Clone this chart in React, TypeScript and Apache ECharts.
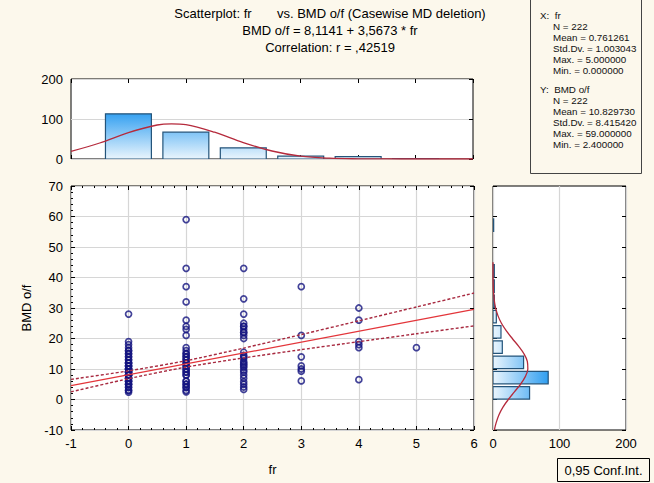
import React, { useEffect, useRef } from "react";
import * as echarts from "echarts";

// ---- data ----
const FR_LEVELS = [0, 1, 2, 3, 4, 5];
const FR_COUNTS = [113, 67, 28, 7, 6, 1];

const TOP_CURVE_X = [-1, -0.5, 0, 0.5, 0.75, 1, 1.5, 2, 2.5, 3, 3.5, 4, 4.5, 5, 6];
const TOP_CURVE_Y = [19, 40, 66, 85, 88, 86, 67, 41, 20, 7, 2, 0.5, 0.1, 0, 0];

const BMD_BIN_CENTERS = [2.2, 7.2, 12.2, 17.2, 22.2, 27.2, 32.2, 37.2, 42.2, 47.2, 52.2, 57.2];
const BMD_BIN_COUNTS = [55, 83, 46, 14, 12, 5, 2, 2, 2, 0, 0, 1];

const RIGHT_CURVE_Y = [-10, -7.5, -5, -2.5, 0, 2.5, 5, 7.5, 10, 12.5, 15, 17.5, 20, 22.5, 25, 27.5, 30, 32.5, 35, 37.5, 40, 45];
const RIGHT_CURVE_X = [2.0, 4.9, 9.0, 15.0, 23.0, 32.2, 41.4, 48.6, 52.4, 51.6, 46.5, 38.4, 29.0, 20.1, 12.7, 7.4, 3.9, 1.9, 0.85, 0.3, 0.1, 0];

const BMD_FR0 = [28, 19, 18, 17, 16, 15, 14, 13, 12, 11, 10, 9, 8, 7, 6, 5, 4, 3, 2.4,
  16, 15, 14, 13, 12, 11, 10, 9, 8, 7, 6, 5, 4, 3, 10, 9, 8, 7, 6, 5, 12, 11, 10, 9, 8];
const BMD_FR1 = [59, 43, 37, 32, 26, 24, 23, 21, 17, 16, 15, 14, 13, 12, 11, 10, 9, 8, 6, 5, 4, 3, 2.5,
  15, 14, 13, 12, 11, 10, 9, 8, 6, 5, 4];
const BMD_FR2 = [43, 33, 28, 25, 24, 23, 22, 21, 20, 15.5, 14.5, 13.5, 12.5, 11.5, 10.5, 9.6, 8, 7, 5.8, 5, 4.1, 3.3,
  24, 22, 14, 12, 11, 9];
const BMD_FR3 = [37, 21, 14, 11, 10, 9.3, 6.1];
const BMD_FR4 = [30, 26, 19, 18, 17, 6.5];
const BMD_FR5 = [17];

const REG_X = [-1, 6];
const REG_Y = [4.55, 29.52];
const CI_X = [-1, 0, 1, 2, 3, 4, 5, 6];
const CI_UPPER = [6.59, 9.38, 12.72, 16.86, 21.29, 25.8, 30.34, 34.9];
const CI_LOWER = [2.51, 6.84, 10.64, 13.64, 16.35, 18.96, 21.56, 24.14];

const TITLE_LINES = [
  "Scatterplot: fr       vs. BMD o/f (Casewise MD deletion)",
  "BMD o/f = 8,1141 + 3,5673 * fr",
  "Correlation: r = ,42519",
];
const STATS_X = ["X:  fr", "N = 222", "Mean = 0.761261", "Std.Dv. = 1.003043", "Max. = 5.000000", "Min. = 0.000000"];
const STATS_Y = ["Y:  BMD o/f", "N = 222", "Mean = 10.829730", "Std.Dv. = 8.415420", "Max. = 59.000000", "Min. = 2.400000"];

const FONT = '"Liberation Sans", Arial, sans-serif';

export default function App() {
  const ref = useRef<HTMLDivElement>(null);
  useEffect(() => {
    if (!ref.current) return;
    const chart = echarts.init(ref.current, undefined, { renderer: "svg" });

    const scatterData: number[][] = [];
    [BMD_FR0, BMD_FR1, BMD_FR2, BMD_FR3, BMD_FR4, BMD_FR5].forEach((arr, i) => {
      arr.forEach((v) => scatterData.push([FR_LEVELS[i], v]));
    });

    const gridBase = { show: true, backgroundColor: "#ffffff", borderColor: "#000", borderWidth: 1 };
    const lbl = { color: "#000", fontSize: 13, fontFamily: FONT };
    const tick = { show: true, inside: true, length: 4, lineStyle: { color: "#000" } };
    const noLine = { show: false, onZero: false };
    const split = { show: true, lineStyle: { color: "#d6d6d6", width: 1.2 } };
    const minor = { show: true, splitNumber: 5, length: 2, lineStyle: { color: "#000" } };

    const tickAxis = (extra: any) => ({
      type: "value",
      axisLabel: { show: false },
      axisTick: tick,
      axisLine: noLine,
      splitLine: { show: false },
      ...extra,
    });

    const barFill = (x0: number, y0: number, x1: number, y1: number) =>
      new echarts.graphic.LinearGradient(x0, y0, x1, y1, [
        { offset: 0, color: "#eaf5fd" },
        { offset: 1, color: "#2b9cf0" },
      ], true);

    const option: any = {
      animation: false,
      backgroundColor: "#fcf8ec",
      grid: [
        { ...gridBase, left: 71, top: 79, width: 402, height: 80 },
        { ...gridBase, left: 71, top: 186, width: 403, height: 244 },
        { ...gridBase, left: 493, top: 186, width: 133, height: 244 },
      ],
      xAxis: [
        tickAxis({ gridIndex: 0, min: -1, max: 6, interval: 1 }),
        tickAxis({ gridIndex: 0, min: -1, max: 6, interval: 1, position: "top" }),
        {
          type: "value", gridIndex: 1, min: -1, max: 6, interval: 1,
          axisLabel: { ...lbl, margin: 7 }, axisTick: tick, axisLine: noLine,
          minorTick: minor,
          splitLine: split,
          name: "fr", nameLocation: "middle", nameGap: 33,
          nameTextStyle: { ...lbl },
        },
        tickAxis({ gridIndex: 1, min: -1, max: 6, interval: 1, position: "top", minorTick: minor }),
        {
          type: "value", gridIndex: 2, min: 0, max: 200, interval: 100,
          axisLabel: { ...lbl, margin: 7 }, axisTick: { show: false }, axisLine: noLine,
          splitLine: split,
        },
        tickAxis({ gridIndex: 2, min: 0, max: 200, interval: 100, position: "top", axisTick: { show: false } }),
      ],
      yAxis: [
        {
          type: "value", gridIndex: 0, min: 0, max: 200, interval: 100,
          axisLabel: { ...lbl, margin: 8 }, axisTick: { show: false }, axisLine: noLine,
          splitLine: split,
        },
        tickAxis({ gridIndex: 0, min: 0, max: 200, interval: 100, position: "right" }),
        {
          type: "value", gridIndex: 1, min: -10, max: 70, interval: 10,
          axisLabel: { ...lbl, margin: 8 }, axisTick: tick, axisLine: noLine,
          minorTick: minor,
          splitLine: split,
          name: "BMD o/f", nameLocation: "middle", nameGap: 36, nameRotate: 90,
          nameTextStyle: { ...lbl },
        },
        tickAxis({ gridIndex: 1, min: -10, max: 70, interval: 10, position: "right" }),
        tickAxis({ gridIndex: 2, min: -10, max: 70, interval: 10, position: "left" }),
        tickAxis({ gridIndex: 2, min: -10, max: 70, interval: 10, position: "right" }),
      ],
      series: [
        {
          type: "custom",
          xAxisIndex: 0, yAxisIndex: 0,
          data: FR_LEVELS.map((x, i) => [x, FR_COUNTS[i]]),
          clip: true,
          renderItem: (params: any, api: any) => {
            const x = api.value(0);
            const c = api.value(1);
            const p0 = api.coord([x - 0.4, c]);
            const p1 = api.coord([x + 0.4, 0]);
            const g0 = api.coord([0, 0]);
            const g1 = api.coord([0, 120]);
            return {
              type: "rect",
              shape: { x: p0[0], y: p0[1], width: p1[0] - p0[0], height: p1[1] - p0[1] },
              style: { fill: barFill(0, g0[1], 0, g1[1]), stroke: "#24547a", lineWidth: 1.2 },
            };
          },
        },
        {
          type: "line", xAxisIndex: 0, yAxisIndex: 0, smooth: 0.35, symbol: "none", clip: true,
          data: TOP_CURVE_X.map((x, i) => [x, TOP_CURVE_Y[i]]),
          lineStyle: { color: "#b52a3c", width: 1.3 },
        },
        {
          type: "scatter", xAxisIndex: 2, yAxisIndex: 2,
          data: scatterData, symbol: "circle", symbolSize: 6,
          itemStyle: { color: "rgba(255,255,255,0)", borderColor: "#14147f", borderWidth: 1.7 },
        },
        {
          type: "line", xAxisIndex: 2, yAxisIndex: 2, symbol: "none",
          data: REG_X.map((x, i) => [x, REG_Y[i]]),
          lineStyle: { color: "#e3353a", width: 1.3 },
        },
        {
          type: "line", xAxisIndex: 2, yAxisIndex: 2, symbol: "none", smooth: 0.2,
          data: CI_X.map((x, i) => [x, CI_UPPER[i]]),
          lineStyle: { color: "#a82a40", width: 1.4, type: [3, 2] },
        },
        {
          type: "line", xAxisIndex: 2, yAxisIndex: 2, symbol: "none", smooth: 0.2,
          data: CI_X.map((x, i) => [x, CI_LOWER[i]]),
          lineStyle: { color: "#a82a40", width: 1.4, type: [3, 2] },
        },
        {
          type: "custom",
          xAxisIndex: 4, yAxisIndex: 4,
          data: BMD_BIN_CENTERS.map((y, i) => [BMD_BIN_COUNTS[i], y]),
          clip: true,
          renderItem: (params: any, api: any) => {
            const c = api.value(0);
            const y = api.value(1);
            if (!c) return null;
            const p0 = api.coord([0, y + 2.05]);
            const p1 = api.coord([c, y - 2.05]);
            const g0 = api.coord([0, 0]);
            const g1 = api.coord([85, 0]);
            return {
              type: "rect",
              shape: { x: p0[0], y: p0[1], width: p1[0] - p0[0], height: p1[1] - p0[1] },
              style: { fill: barFill(g0[0], 0, g1[0], 0), stroke: "#24547a", lineWidth: 1.2 },
            };
          },
        },
        {
          type: "line", xAxisIndex: 4, yAxisIndex: 4, smooth: 0.35, symbol: "none", clip: true,
          data: RIGHT_CURVE_Y.map((y, i) => [RIGHT_CURVE_X[i], y]),
          lineStyle: { color: "#b52a3c", width: 1.3 },
        },
      ],
      graphic: [
        ...TITLE_LINES.map((t, i) => ({
          type: "text", x: 330, y: 13 + i * 17,
          style: { text: t, fontSize: 13, fontFamily: FONT, fill: "#000", align: "center", verticalAlign: "middle" },
        })),
        {
          type: "rect", shape: { x: 530.5, y: -2, width: 111, height: 175.5 },
          style: { fill: "#fcf8ec", stroke: "#444", lineWidth: 1 },
        },
        ...STATS_X.map((t, i) => ({
          type: "text", x: i === 0 ? 540 : 553, y: 15 + i * 11,
          style: { text: t, fontSize: 9.8, fontFamily: FONT, fill: "#111", align: "left", verticalAlign: "middle" },
        })),
        ...STATS_Y.map((t, i) => ({
          type: "text", x: i === 0 ? 540 : 553, y: 89 + i * 11,
          style: { text: t, fontSize: 9.8, fontFamily: FONT, fill: "#111", align: "left", verticalAlign: "middle" },
        })),
        {
          type: "rect", shape: { x: 557.5, y: 458.5, width: 92, height: 23 },
          style: { fill: "#fcf8ec", stroke: "#000", lineWidth: 1 },
        },
        {
          type: "text", x: 603.5, y: 470,
          style: { text: "0,95 Conf.Int.", fontSize: 13, fontFamily: FONT, fill: "#000", align: "center", verticalAlign: "middle" },
        },
      ],
    };

    chart.setOption(option);
    return () => chart.dispose();
  }, []);

  return <div ref={ref} style={{ position: "absolute", left: 0, top: 0, width: 654, height: 483 }} />;
}
